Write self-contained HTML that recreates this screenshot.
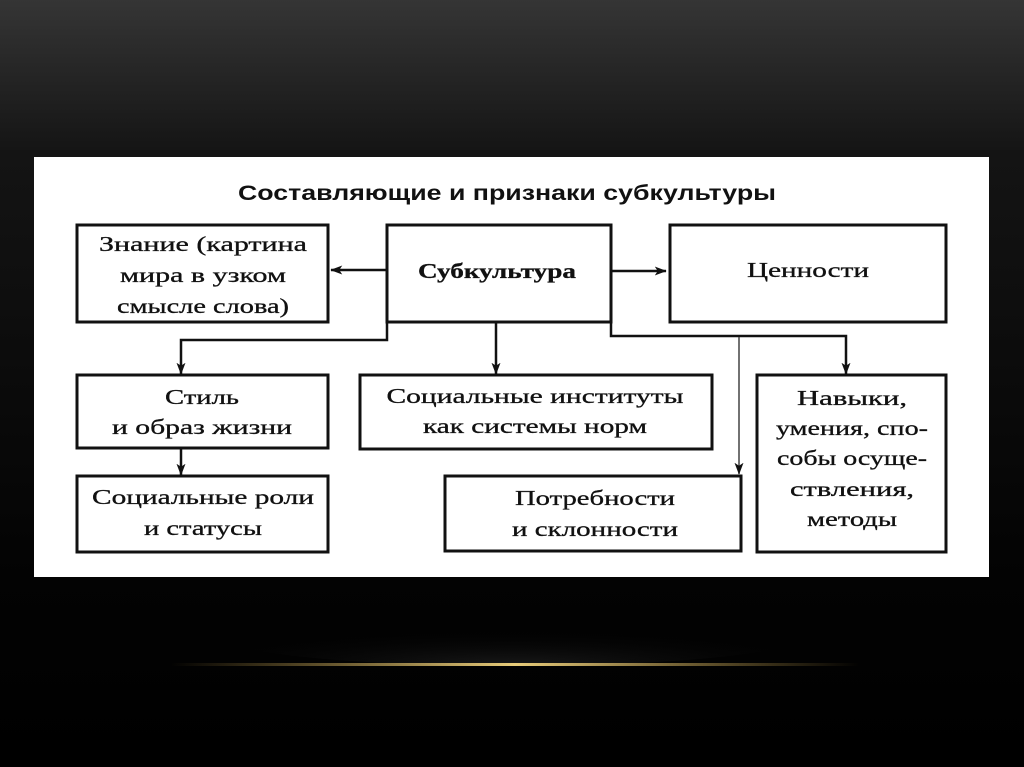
<!DOCTYPE html>
<html><head><meta charset="utf-8"><style>
html,body{margin:0;padding:0;width:1024px;height:767px;overflow:hidden;background:#000}
svg{display:block}
.t{font-family:"Liberation Serif",serif;font-size:21px;fill:#111;stroke:#111;stroke-width:0.3}
</style></head><body>
<svg width="1024" height="767" viewBox="0 0 1024 767">
<defs>
<linearGradient id="bg" x1="0" y1="0" x2="0" y2="1">
<stop offset="0" stop-color="#353535"/><stop offset="0.2" stop-color="#141414"/><stop offset="0.75" stop-color="#030303"/><stop offset="1" stop-color="#000"/>
</linearGradient>
<linearGradient id="gold" x1="0" y1="0" x2="1" y2="0">
<stop offset="0" stop-color="#c9a24a" stop-opacity="0"/><stop offset="0.5" stop-color="#e8cc7a"/><stop offset="1" stop-color="#c9a24a" stop-opacity="0"/>
</linearGradient>
<radialGradient id="glow" cx="0.5" cy="1" r="0.6">
<stop offset="0" stop-color="#2a2a2a" stop-opacity="0.6"/><stop offset="1" stop-color="#000" stop-opacity="0"/>
</radialGradient>
<marker id="a" markerWidth="12" markerHeight="18" refX="15" refY="8" orient="auto" markerUnits="userSpaceOnUse" viewBox="0 0 16 16">
<path d="M0,2 L16,8 L0,14 L4,8 Z" fill="#111"/>
</marker>
</defs>
<rect width="1024" height="767" fill="url(#bg)"/>
<ellipse cx="512" cy="634" rx="300" ry="32" fill="url(#glow)"/>
<rect x="170" y="663" width="690" height="3" fill="url(#gold)"/>
<rect x="34" y="157" width="955" height="420" fill="#fff"/>
<text x="507" y="200" text-anchor="middle" font-family="Liberation Sans, sans-serif" font-weight="bold" font-size="21" fill="#111" textLength="538" lengthAdjust="spacingAndGlyphs">Составляющие и признаки субкультуры</text>
<g fill="none" stroke="#111" stroke-width="3">
<rect x="77" y="225" width="251" height="97"/>
<rect x="387" y="225" width="224" height="97"/>
<rect x="670" y="225" width="276" height="97"/>
<rect x="77" y="375" width="251" height="73"/>
<rect x="360" y="375" width="352" height="74"/>
<rect x="757" y="375" width="189" height="177"/>
<rect x="77" y="476" width="251" height="76"/>
<rect x="445" y="476" width="296" height="75"/>
</g>
<g stroke="#111" stroke-width="2.5" fill="none">
<path d="M386,270 H331" marker-end="url(#a)"/>
<path d="M612,271 H666" marker-end="url(#a)"/>
<path d="M387,322 V340 H181 V374" marker-end="url(#a)"/>
<path d="M181,449 V475" marker-end="url(#a)"/>
<path d="M496,323 V374" marker-end="url(#a)"/>
<path d="M611,322 V336 H846 V374" marker-end="url(#a)"/>
</g>
<path d="M739,337 V474" stroke="#444" stroke-width="1.5" fill="none" marker-end="url(#a)"/>
<text class="t" x="203" y="251" text-anchor="middle" textLength="208" lengthAdjust="spacingAndGlyphs">Знание (картина</text>
<text class="t" x="203" y="282" text-anchor="middle" textLength="166" lengthAdjust="spacingAndGlyphs">мира в узком</text>
<text class="t" x="203" y="313" text-anchor="middle" textLength="172" lengthAdjust="spacingAndGlyphs">смысле слова)</text>
<text class="t" x="497" y="278" text-anchor="middle" font-weight="bold" textLength="158" lengthAdjust="spacingAndGlyphs">Субкультура</text>
<text class="t" x="808" y="277" text-anchor="middle" textLength="122" lengthAdjust="spacingAndGlyphs">Ценности</text>
<text class="t" x="202" y="404" text-anchor="middle" textLength="74" lengthAdjust="spacingAndGlyphs">Стиль</text>
<text class="t" x="202" y="434" text-anchor="middle" textLength="180" lengthAdjust="spacingAndGlyphs">и образ жизни</text>
<text class="t" x="535" y="403" text-anchor="middle" textLength="297" lengthAdjust="spacingAndGlyphs">Социальные институты</text>
<text class="t" x="535" y="433" text-anchor="middle" textLength="224" lengthAdjust="spacingAndGlyphs">как системы норм</text>
<text class="t" x="852" y="405" text-anchor="middle" textLength="110" lengthAdjust="spacingAndGlyphs">Навыки,</text>
<text class="t" x="852" y="435" text-anchor="middle" textLength="152" lengthAdjust="spacingAndGlyphs">умения, спо-</text>
<text class="t" x="852" y="465" text-anchor="middle" textLength="150" lengthAdjust="spacingAndGlyphs">собы осуще-</text>
<text class="t" x="852" y="496" text-anchor="middle" textLength="124" lengthAdjust="spacingAndGlyphs">ствления,</text>
<text class="t" x="852" y="526" text-anchor="middle" textLength="90" lengthAdjust="spacingAndGlyphs">методы</text>
<text class="t" x="203" y="504" text-anchor="middle" textLength="222" lengthAdjust="spacingAndGlyphs">Социальные роли</text>
<text class="t" x="203" y="535" text-anchor="middle" textLength="118" lengthAdjust="spacingAndGlyphs">и статусы</text>
<text class="t" x="595" y="505" text-anchor="middle" textLength="160" lengthAdjust="spacingAndGlyphs">Потребности</text>
<text class="t" x="595" y="536" text-anchor="middle" textLength="166" lengthAdjust="spacingAndGlyphs">и склонности</text>
</svg>
</body></html>
